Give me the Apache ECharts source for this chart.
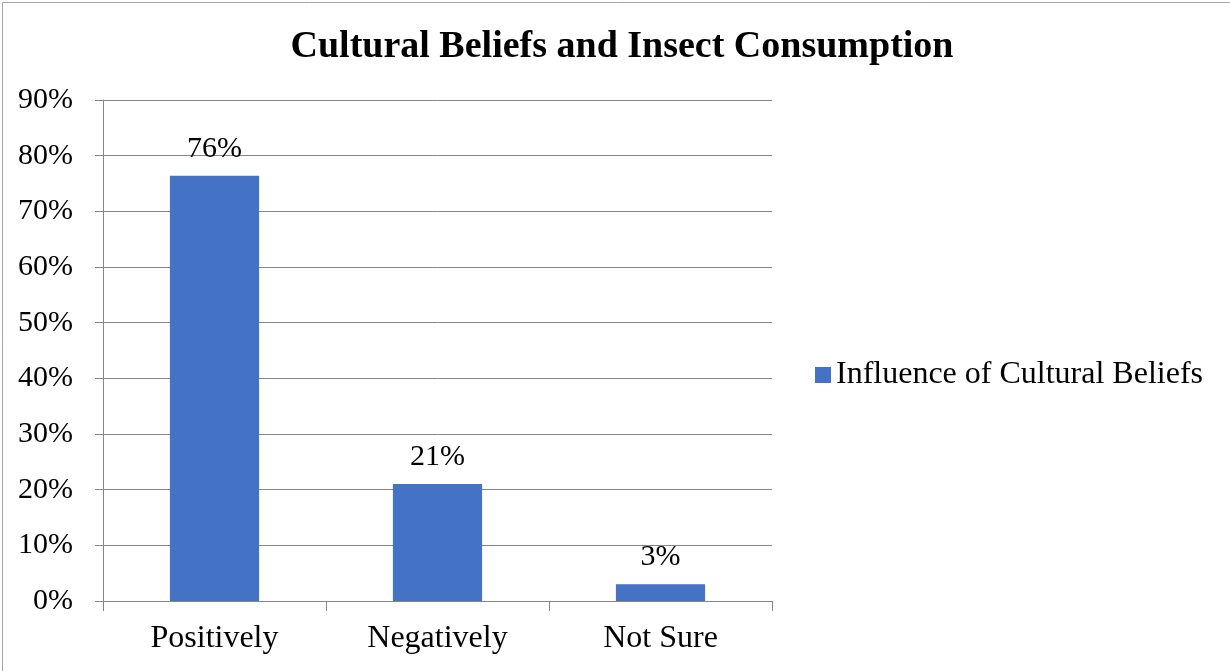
<!DOCTYPE html>
<html>
<head>
<meta charset="utf-8">
<script src="https://cdn.jsdelivr.net/npm/echarts@6/dist/echarts.min.js"></script>
<style>
html,body{margin:0;padding:0;background:#fff;}
#chart{width:1230px;height:671px;}
</style>
</head>
<body>
<div id="chart"></div>
<script>
const categories = ['Positively', 'Negatively', 'Not Sure'];
const values = [76.4, 21.0, 3.0];
const yTicks = [0, 10, 20, 30, 40, 50, 60, 70, 80, 90];
const seriesName = 'Influence of Cultural Beliefs';
const titleText = 'Cultural Beliefs and Insect Consumption';

const font = 'Liberation Serif, Times New Roman, serif';
const chart = echarts.init(document.getElementById('chart'), null, {renderer: 'canvas'});
chart.setOption({
  animation: false,
  backgroundColor: '#fff',
  graphic: [{
    type: 'rect', left: 0, top: 0,
    shape: {x: 0.5, y: 0.5, width: 1229, height: 670},
    style: {fill: 'none', stroke: '#a6a6a6', lineWidth: 1},
    silent: true
  }],
  title: {
    text: titleText, left: 617, textAlign: 'center', top: 23,
    textStyle: {fontFamily: font, fontWeight: 'bold', fontSize: 38, color: '#000'}
  },
  legend: {
    data: [seriesName], left: 810, top: 354, itemWidth: 16, itemHeight: 16, itemGap: 8,
    icon: 'rect',
    textStyle: {fontFamily: font, fontSize: 32, color: '#000', padding: [0, 0, 0, 0]}
  },
  grid: {left: 103, right: 458, top: 100, bottom: 70, containLabel: false},
  xAxis: {
    type: 'category', data: categories,
    axisLine: {lineStyle: {color: '#868686'}},
    axisTick: {show: true, length: 10, alignWithLabel: false, lineStyle: {color: '#868686'}},
    axisLabel: {fontFamily: font, fontSize: 32, color: '#000', margin: 22}
  },
  yAxis: {
    type: 'value', min: 0, max: 90, interval: 10,
    axisLine: {show: true, lineStyle: {color: '#868686'}},
    axisTick: {show: true, length: 8, inside: false, lineStyle: {color: '#868686'}},
    splitLine: {lineStyle: {color: '#868686'}},
    axisLabel: {fontFamily: font, fontSize: 30, color: '#000', margin: 30,
      formatter: v => yTicks.includes(v) ? v + '%' : ''}
  },
  series: [{
    name: seriesName, type: 'bar', data: values, barWidth: '40%',
    itemStyle: {color: '#4472c4'},
    label: {show: true, position: 'top', distance: 12, fontFamily: font, fontSize: 30, color: '#000',
      formatter: p => Math.round(p.value) + '%'}
  }]
});
</script>
</body>
</html>
